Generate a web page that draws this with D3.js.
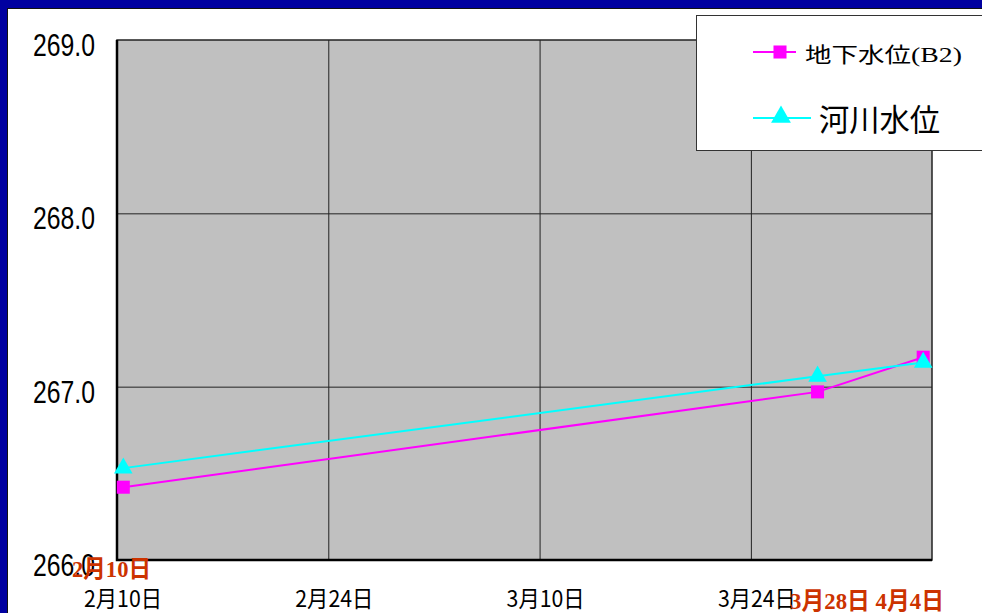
<!DOCTYPE html>
<html>
	<head>
		<meta charset="UTF-8">
		<title>地下水位・河川水位</title>
		<style>
			body{margin:0;background:#fff;}
			svg{display:block;}
		</style>
	</head>
	<body>
		<script src="https://cdn.jsdelivr.net/npm/d3@7/dist/d3.min.js"></script>
		<script>
			//measurement dates (taken in the morning)
			var dates = ["2005-02-10T10:00","2005-03-28T10:00","2005-04-04T10:00"];
			//groundwater level B2 (m)
			var groundLevel = [266.42,266.97,267.17];
			//river water level (m)
			var riverLevel = [266.53,267.06,267.14];
			var yTicks = [266,267,268,269];
			var xTickDates = ["2005-02-10","2005-02-24","2005-03-10","2005-03-24"];
			var xTickLabels = ["2月10日","2月24日","3月10日","3月24日"];
			var seriesNames = ["地下水位","河川水位"];
			var xDomain = ["2005-02-10","2005-04-05"];

			var width = 982,
				height = 613;
			var plot = {l:117,t:40,r:932,b:560};

			var parseTime = d3.utcParse("%Y-%m-%dT%H:%M"),
				parseDay = d3.utcParse("%Y-%m-%d");

			var x = d3.scaleUtc()
						.domain(xDomain.map(parseDay))
						.range([plot.l,plot.r]);
			var y = d3.scaleLinear()
						.domain([266,269])
						.range([plot.b,plot.t]);

			var svg = d3.select("body").append("svg")
						.attr("width",width)
						.attr("height",height);

			//blue frame of the slide with a dark shadow edge
			svg.append("rect").attr("width",width).attr("height",height).attr("fill","#0000a0");
			svg.append("rect").attr("x",7).attr("y",8).attr("width",width).attr("height",height).attr("fill","#111");
			svg.append("rect").attr("x",8).attr("y",9).attr("width",width).attr("height",height).attr("fill","#fff");

			//plot area
			svg.append("rect")
				.attr("x",plot.l)
				.attr("y",plot.t)
				.attr("width",plot.r-plot.l)
				.attr("height",plot.b-plot.t)
				.attr("fill","#c0c0c0");

			//horizontal gridlines
			svg.append("g")
				.attr("transform","translate("+plot.l+",0)")
				.call(d3.axisLeft(y).tickValues(yTicks.slice(1,-1)).tickSize(-(plot.r-plot.l)).tickFormat(""))
				.call(function(g){
					g.select(".domain").remove();
					g.selectAll("line").attr("stroke","#222").attr("stroke-width",1);
				});
			//vertical gridlines
			svg.append("g")
				.attr("transform","translate(0,"+plot.b+")")
				.call(d3.axisBottom(x).tickValues(xTickDates.slice(1).map(parseDay)).tickSize(-(plot.b-plot.t)).tickFormat(""))
				.call(function(g){
					g.select(".domain").remove();
					g.selectAll("line").attr("stroke","#222").attr("stroke-width",1);
				});

			//plot border, heavier on left and bottom
			svg.append("rect")
				.attr("x",plot.l)
				.attr("y",plot.t)
				.attr("width",plot.r-plot.l)
				.attr("height",plot.b-plot.t)
				.attr("fill","none")
				.attr("stroke","#222")
				.attr("stroke-width",1.5);
			svg.append("path")
				.attr("d","M"+plot.l+","+plot.t+"V"+plot.b+"H"+plot.r)
				.attr("fill","none")
				.attr("stroke","#000")
				.attr("stroke-width",2.5);

			//y tick labels
			svg.append("g").selectAll("text")
				.data(yTicks)
				.enter()
				.append("text")
				.attr("x",95)
				.attr("y",function(d){return y(d)+16;})
				.attr("text-anchor","end")
				.attr("textLength",62)
				.attr("lengthAdjust","spacingAndGlyphs")
				.style("font-family","'Liberation Sans',Arial,sans-serif")
				.style("font-size","32px")
				.style("fill","#000")
				.text(function(d){return d.toFixed(1);});

			//x tick labels
			svg.append("g").selectAll("text")
				.data(xTickDates)
				.enter()
				.append("text")
				.attr("x",function(d){return x(parseDay(d))-33;})
				.attr("y",607)
				.attr("textLength",78)
				.attr("lengthAdjust","spacingAndGlyphs")
				.style("font-family","'Noto Sans CJK JP',sans-serif")
				.style("font-size","23px")
				.style("fill","#000")
				.text(function(d,i){return xTickLabels[i];});

			var line = d3.line()
						.x(function(d){return x(d.date);})
						.y(function(d){return y(d.value);});

			function makeSeries(values){
				return dates.map(function(d,i){
					return {date:parseTime(d),value:values[i]};
				});
			}
			var series = [
				{name:seriesNames[0],color:"#ff00ff",shape:d3.symbolSquare,size:170,data:makeSeries(groundLevel)},
				{name:seriesNames[1],color:"#00ffff",shape:d3.symbolTriangle,size:150,data:makeSeries(riverLevel)}
			];

			series.forEach(function(s){
				svg.append("path")
					.datum(s.data)
					.attr("d",line)
					.attr("fill","none")
					.attr("stroke",s.color)
					.attr("stroke-width",2);
			});
			series.forEach(function(s){
				svg.append("g").selectAll("path")
					.data(s.data)
					.enter()
					.append("path")
					.attr("transform",function(d){
						return "translate("+x(d.date)+","+y(d.value)+")";
					})
					.attr("d",d3.symbol().type(s.shape).size(s.size))
					.attr("fill",s.color);
			});

			//red annotation labels for the measurement days
			svg.append("text")
				.attr("x",72)
				.attr("y",577)
				.attr("textLength",79)
				.attr("lengthAdjust","spacingAndGlyphs")
				.style("font-family","'Liberation Serif','Noto Sans CJK JP',serif")
				.style("font-weight","bold")
				.style("font-size","24px")
				.style("fill","#cc3300")
				.text("2月10日");
			svg.append("text")
				.attr("x",790)
				.attr("y",609)
				.attr("textLength",154)
				.attr("lengthAdjust","spacingAndGlyphs")
				.style("font-family","'Liberation Serif','Noto Sans CJK JP',serif")
				.style("font-weight","bold")
				.style("font-size","24px")
				.style("fill","#cc3300")
				.text("3月28日 4月4日");

			//legend
			var legend = svg.append("g");
			legend.append("rect")
				.attr("x",696.5)
				.attr("y",15.5)
				.attr("width",300)
				.attr("height",135)
				.attr("fill","#fff")
				.attr("stroke","#333")
				.attr("stroke-width",1);

			var l1 = legend.append("g").attr("transform","translate(0,52)");
			l1.append("line").attr("x1",753).attr("x2",796).attr("stroke",series[0].color).attr("stroke-width",2);
			l1.append("path").attr("transform","translate(780,0)").attr("d",d3.symbol().type(series[0].shape).size(170)).attr("fill",series[0].color);
			var t1 = l1.append("text")
						.attr("x",805)
						.attr("y",10)
						.attr("textLength",157)
						.attr("lengthAdjust","spacingAndGlyphs")
						.style("font-size","21px")
						.style("fill","#000");
			t1.append("tspan").style("font-family","'Noto Sans CJK JP',sans-serif").text(series[0].name);
			t1.append("tspan").style("font-family","'Liberation Serif',serif").style("font-size","22px").text("(B2)");

			var l2 = legend.append("g").attr("transform","translate(0,118)");
			l2.append("line").attr("x1",753).attr("x2",811).attr("stroke",series[1].color).attr("stroke-width",2);
			l2.append("path").attr("transform","translate(781,-1)").attr("d",d3.symbol().type(series[1].shape).size(170)).attr("fill",series[1].color);
			l2.append("text")
				.attr("x",819)
				.attr("y",13)
				.attr("textLength",121)
				.attr("lengthAdjust","spacingAndGlyphs")
				.style("font-family","'Noto Sans CJK JP',sans-serif")
				.style("font-size","31px")
				.style("fill","#000")
				.text(series[1].name);
		</script>
	</body>
</html>
